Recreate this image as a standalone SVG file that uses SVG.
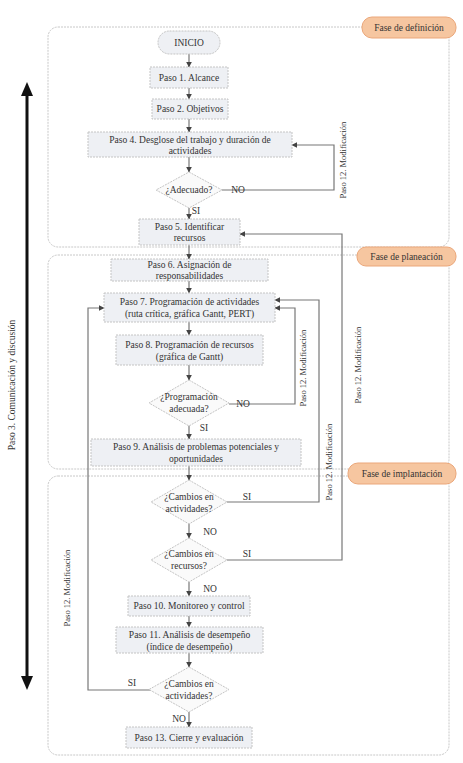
<svg xmlns="http://www.w3.org/2000/svg" width="463" height="763" viewBox="0 0 463 763">
<defs>
<style>
text{font-family:"Liberation Serif","Times New Roman",serif;font-size:9.5px;fill:#333;text-anchor:middle;dominant-baseline:central}
text.rot{font-size:8.5px}
.phase{fill:none;stroke:#c8c8c8;stroke-width:1;stroke-dasharray:2 1}
.pill{fill:#f6c6a0;stroke:#eba77a;stroke-width:1}
.box{fill:#eef0f4;stroke:#c4c4c4;stroke-width:1;stroke-dasharray:2 1}
.dia{fill:#fafafa;stroke:#c4c4c4;stroke-width:1;stroke-dasharray:2 1}
.c{fill:none;stroke:#777;stroke-width:1.2;marker-end:url(#ah)}
.big{stroke:#111;stroke-width:3;fill:none}
</style>
<marker id="ah" viewBox="0 0 10 10" refX="9" refY="5" markerWidth="6" markerHeight="6" orient="auto" markerUnits="userSpaceOnUse">
<path d="M0,0 L10,5 L0,10 z" fill="#444"/>
</marker>
</defs>
<rect width="463" height="763" fill="#ffffff"/>

<g id="phases">
<rect class="phase" x="48" y="27" width="401" height="220" rx="10"/>
<rect class="phase" x="48" y="255" width="401" height="214" rx="10"/>
<rect class="phase" x="48" y="476" width="401" height="279" rx="10"/>
<g id="pill-definicion"><rect class="pill" x="362" y="17" width="94" height="21" rx="10"/><text x="409" y="27.5">Fase de definición</text></g>
<g id="pill-planeacion"><rect class="pill" x="357" y="247" width="99" height="19" rx="9"/><text x="406.5" y="256.5">Fase de planeación</text></g>
<g id="pill-implantacion"><rect class="pill" x="348" y="463" width="108" height="21" rx="10"/><text x="402" y="473.5">Fase de implantación</text></g>
</g>

<g id="comunicacion">
<line class="big" x1="27" y1="92" x2="27" y2="680"/>
<path d="M27,82 L21,96 L33,96 z" fill="#111"/>
<path d="M27,690 L21,676 L33,676 z" fill="#111"/>
<text x="12" y="385" transform="rotate(-90 12 385)">Paso 3. Comunicación y discusión</text>
</g>

<g id="connectors">
<path class="c" d="M189,54 V67"/>
<path class="c" d="M189,88 V99"/>
<path class="c" d="M189,119 V132"/>
<path class="c" d="M189,157 V172"/>
<path class="c" d="M189,208 V219"/>
<path class="c" d="M222,190 H334 V145 H292"/>
<path class="c" d="M189,245 V259"/>
<path class="c" d="M189,281 V293"/>
<path class="c" d="M189,322 V335"/>
<path class="c" d="M189,365 V380"/>
<path class="c" d="M189,425 V439"/>
<path class="c" d="M229,404 H295 V308 H275"/>
<path class="c" d="M189,466 V480"/>
<path class="c" d="M227,502 H319 V300 H275"/>
<path class="c" d="M189,523 V538"/>
<path class="c" d="M227,560 H342 V234 H240"/>
<path class="c" d="M189,582 V596"/>
<path class="c" d="M189,616 V627"/>
<path class="c" d="M189,653 V667"/>
<path class="c" d="M151,690 H88 V308 H104"/>
<path class="c" d="M189,712 V727"/>
</g>

<g id="labels">
<text x="238" y="190">NO</text>
<text x="196" y="211">SI</text>
<text class="rot" x="343" y="160" transform="rotate(-90 343 160)">Paso 12. Modificación</text>
<text x="243" y="404">NO</text>
<text x="204" y="428">SI</text>
<text class="rot" x="303" y="368" transform="rotate(-90 303 368)">Paso 12. Modificación</text>
<text class="rot" x="358" y="365" transform="rotate(-90 358 365)">Paso 12. Modificación</text>
<text x="247" y="497">SI</text>
<text class="rot" x="329" y="462" transform="rotate(-90 329 462)">Paso 12. Modificación</text>
<text x="210" y="532">NO</text>
<text x="247" y="554">SI</text>
<text x="210" y="589">NO</text>
<text class="rot" x="67" y="588" transform="rotate(-90 67 588)">Paso 12. Modificación</text>
<text x="132" y="683">SI</text>
<text x="179" y="719">NO</text>
</g>

<g id="inicio"><rect class="box" x="158" y="31" width="62" height="23" rx="11.5"/><text x="189" y="42.5">INICIO</text></g>
<g id="paso1"><rect class="box" x="150" y="67" width="78" height="21"/><text x="189" y="77.5">Paso 1. Alcance</text></g>
<g id="paso2"><rect class="box" x="152" y="99" width="76" height="20"/><text x="190" y="109">Paso 2. Objetivos</text></g>
<g id="paso4"><rect class="box" x="88" y="132" width="204" height="25"/><text x="190" y="139.5">Paso 4. Desglose del trabajo y duración de</text><text x="190" y="150.5">actividades</text></g>
<g id="adecuado"><polygon class="dia" points="189,172 222,190 189,208 156,190"/><text x="189" y="190">¿Adecuado?</text></g>
<g id="paso5"><rect class="box" x="139" y="219" width="101" height="26"/><text x="189.5" y="227">Paso 5. Identificar</text><text x="189.5" y="238">recursos</text></g>
<g id="paso6"><rect class="box" x="111" y="259" width="157" height="22"/><text x="189.5" y="264.5">Paso 6. Asignación de</text><text x="189.5" y="276">responsabilidades</text></g>
<g id="paso7"><rect class="box" x="104" y="293" width="171" height="29"/><text x="189.5" y="302">Paso 7. Programación de actividades</text><text x="189.5" y="314">(ruta crítica, gráfica Gantt, PERT)</text></g>
<g id="paso8"><rect class="box" x="116" y="335" width="147" height="30"/><text x="189.5" y="345">Paso 8. Programación de recursos</text><text x="189.5" y="357">(gráfica de Gantt)</text></g>
<g id="programacion"><polygon class="dia" points="189,380 229,403 189,426 149,403"/><text x="189" y="397">¿Programación</text><text x="189" y="409">adecuada?</text></g>
<g id="paso9"><rect class="box" x="91" y="439" width="210" height="27"/><text x="196" y="447">Paso 9. Análisis de problemas potenciales y</text><text x="196" y="459">oportunidades</text></g>
<g id="cambios-act1"><polygon class="dia" points="189,480 227,502 189,524 151,502"/><text x="189" y="497">¿Cambios en</text><text x="189" y="508.5">actividades?</text></g>
<g id="cambios-rec"><polygon class="dia" points="189,538 227,560 189,582 151,560"/><text x="189" y="554">¿Cambios en</text><text x="189" y="565.5">recursos?</text></g>
<g id="paso10"><rect class="box" x="128" y="596" width="122" height="20"/><text x="189" y="606">Paso 10. Monitoreo y control</text></g>
<g id="paso11"><rect class="box" x="116" y="627" width="147" height="26"/><text x="189.5" y="635">Paso 11. Análisis de desempeño</text><text x="189.5" y="646.5">(índice de desempeño)</text></g>
<g id="cambios-act2"><polygon class="dia" points="189,667 229,689.5 189,712 149,689.5"/><text x="189" y="684">¿Cambios en</text><text x="189" y="695.5">actividades?</text></g>
<g id="paso13"><rect class="box" x="126" y="727" width="126" height="21"/><text x="189" y="737.5">Paso 13. Cierre y evaluación</text></g>
</svg>
